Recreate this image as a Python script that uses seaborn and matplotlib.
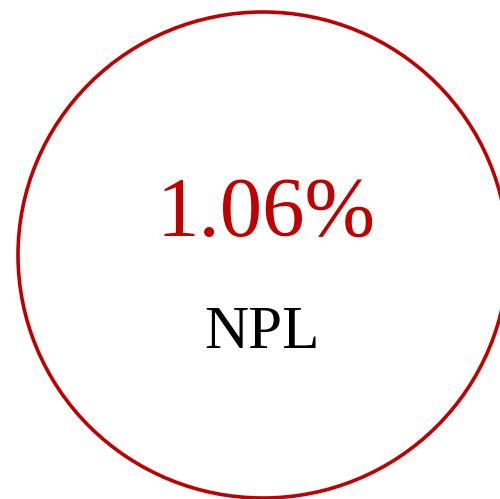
import numpy as np
import matplotlib
matplotlib.use("Agg")
import matplotlib.pyplot as plt
import seaborn as sns
from matplotlib.patches import Ellipse

value_text = "1.06%"
label_text = "NPL"
ring_color = "#C00000"

sns.set_theme(style="white")
plt.rcParams['font.family'] = ['Liberation Serif', 'DejaVu Serif']

fig = plt.figure(figsize=(5.0, 4.99), dpi=100)
ax = fig.add_axes([0, 0, 1, 1])
ax.set_xlim(0, 500)
ax.set_ylim(499, 0)
ax.set_axis_off()

# ring
ax.add_patch(Ellipse((263, 255), 490, 486, fill=False, edgecolor=ring_color, linewidth=2.6))

ax.text(266, 215, value_text, color=ring_color, fontsize=61, ha="center", va="center")
ax.text(262, 333, label_text, color="black", fontsize=44, ha="center", va="center")

fig.savefig("out.png", dpi=100, facecolor="white")
